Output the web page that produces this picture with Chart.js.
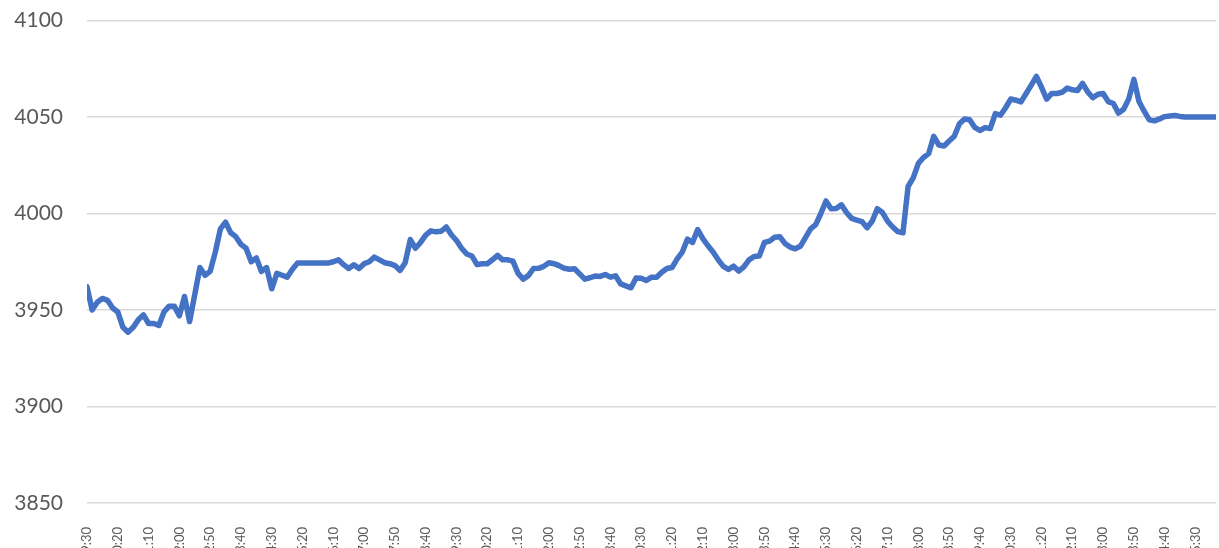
<!DOCTYPE html>
<html>
<head>
<meta charset="utf-8">
<title>Price</title>
<script src="https://cdn.jsdelivr.net/npm/chart.js@4.4.1/dist/chart.umd.min.js"></script>
<style>
    html, body {
        margin: 0;
        padding: 0;
        background: #ffffff;
        overflow: hidden;
    }
    #chart-wrap {
        position: relative;
        width: 1219px;
        height: 563px;
    }
</style>
</head>
<body>
<div id="chart-wrap">
    <canvas id="price-chart"></canvas>
</div>
<script>
// Tick labels on the time axis (one label every 6 samples)
const timeLabels = [
    '9:30', '10:20', '11:10', '12:00', '12:50', '13:40', '14:30', '15:20', '16:10',
    '17:00', '17:50', '18:40', '19:30', '20:20', '21:10', '22:00', '22:50', '23:40',
    '0:30', '1:20', '2:10', '3:00', '3:50', '4:40', '5:30', '6:20', '7:10',
    '8:00', '8:50', '9:40', '10:30', '11:20', '12:10', '13:00', '13:50', '14:40', '15:30'
];
const samplesPerLabel = 6;

// Price series
const prices = [
    3962, 3950, 3954, 3956, 3955, 3951, 3949, 3941, 3938.5, 3941,
    3945, 3947.5, 3943, 3943, 3942, 3949, 3952, 3952, 3947, 3957,
    3944, 3958, 3972, 3968, 3970, 3980, 3992, 3995.5, 3990, 3988,
    3984, 3982, 3975, 3977, 3970, 3972, 3961, 3969, 3968, 3967,
    3971, 3974.3, 3974.3, 3974.3, 3974.3, 3974.3, 3974.3, 3974.3, 3975, 3976,
    3973.5, 3971.5, 3973.4, 3971.5, 3974, 3975, 3977.4, 3976, 3974.5, 3974,
    3973, 3970.5, 3974.5, 3986.5, 3982, 3985, 3988.8, 3991, 3990.5, 3990.8,
    3993, 3989, 3986, 3982, 3979, 3978, 3973.5, 3974, 3974, 3976,
    3978.3, 3976, 3976, 3975.3, 3969, 3966, 3967.8, 3971.5, 3971.6, 3972.6,
    3974.5, 3974, 3973, 3971.6, 3971.1, 3971.4, 3968.7, 3966, 3966.7, 3967.6,
    3967.4, 3968.4, 3967, 3967.7, 3963.5, 3962.5, 3961.5, 3966.6, 3966.5, 3965.3,
    3967, 3967, 3969.6, 3971.5, 3972, 3976.5, 3980, 3986.7, 3985, 3991.7,
    3987, 3983.3, 3980, 3976, 3972.6, 3971, 3972.7, 3970.2, 3972.4, 3976,
    3977.7, 3978, 3985, 3985.7, 3987.7, 3988, 3984.5, 3982.6, 3981.7, 3983,
    3987.5, 3992, 3994.2, 4000, 4006.5, 4002.4, 4002.6, 4004.5, 4000.5, 3997.5,
    3996.6, 3995.8, 3992.6, 3996, 4002.5, 4000.5, 3996, 3993, 3990.6, 3990,
    4014, 4018.5, 4026, 4029, 4031, 4040, 4035.5, 4035, 4037.6, 4040,
    4046.5, 4049, 4048.6, 4044.6, 4043, 4044.5, 4044, 4051.8, 4050.9, 4054.8,
    4059.3, 4058.7, 4057.8, 4062.2, 4066.5, 4071, 4065.4, 4059.3, 4062.2, 4062.2,
    4062.8, 4065, 4064.1, 4063.7, 4067.4, 4063, 4060, 4061.8, 4062.2, 4058,
    4057, 4052, 4054, 4059.4, 4069.5, 4058, 4053, 4048.5, 4048, 4049,
    4050.2, 4050.5, 4050.8, 4050.3, 4050, 4050, 4050, 4050, 4050, 4050,
    4050
];

// Y axis range
const yMin = 3850;
const yMax = 4100;
const yStep = 50;

const textColor = '#595959';
const gridColor = '#d9d9d9';
const lineColor = '#4472c4';

// Build points (x = sample index)
const points = prices.map((p, i) => ({ x: i, y: p }));

function drawChart() {
    const ctx = document.getElementById('price-chart').getContext('2d');

    new Chart(ctx, {
        type: 'line',
        data: {
            datasets: [
                {
                    label: 'Price',
                    data: points,
                    borderColor: lineColor,
                    backgroundColor: lineColor,
                    borderWidth: 5.5,
                    borderCapStyle: 'round',
                    borderJoinStyle: 'round',
                    pointRadius: 0,
                    tension: 0,
                    fill: false
                }
            ]
        },
        options: {
            responsive: true,
            maintainAspectRatio: false,
            animation: false,
            layout: {
                padding: { top: 20.5, right: 3, bottom: 0, left: 0 }
            },
            plugins: {
                legend: { display: false },
                tooltip: { enabled: false }
            },
            scales: {
                x: {
                    type: 'linear',
                    min: 0,
                    max: prices.length - 1,
                    grid: { display: false, drawTicks: false },
                    border: { display: false },
                    // fixed axis height, no extra side padding for the labels
                    afterFit: (scale) => {
                        scale.height = 60;
                        scale.paddingLeft = 0;
                        scale.paddingRight = 0;
                    },
                    ticks: {
                        stepSize: samplesPerLabel,
                        includeBounds: false,
                        autoSkip: false,
                        maxRotation: 90,
                        minRotation: 90,
                        padding: 24,
                        color: textColor,
                        font: { family: "Lato, 'Open Sans', sans-serif", size: 13 },
                        callback: function(value) {
                            if (value % samplesPerLabel !== 0) return null;
                            return timeLabels[value / samplesPerLabel];
                        }
                    }
                },
                y: {
                    min: yMin,
                    max: yMax,
                    grid: {
                        color: gridColor,
                        lineWidth: 1.5,
                        drawTicks: false
                    },
                    border: { display: false },
                    afterFit: (scale) => {
                        scale.width = 87;
                        scale.paddingTop = 0;
                        scale.paddingBottom = 0;
                    },
                    ticks: {
                        stepSize: yStep,
                        padding: 24,
                        color: textColor,
                        font: { family: "Lato, 'Open Sans', sans-serif", size: 21 },
                        callback: function(value) {
                            return String(value);
                        }
                    }
                }
            }
        }
    });
}

document.addEventListener('DOMContentLoaded', drawChart);
</script>
</body>
</html>
